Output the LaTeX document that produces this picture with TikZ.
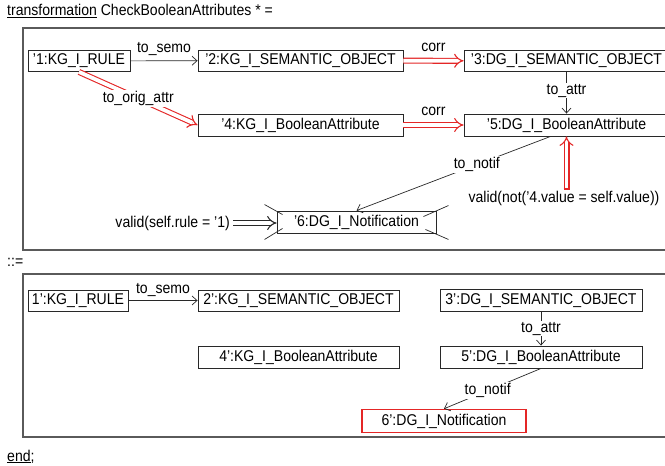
\documentclass[tikz,border=0pt]{standalone}
\usepackage{fontspec}
\setmainfont{Liberation Sans}[FakeStretch=0.9]
\usetikzlibrary{arrows.meta,calc}
\definecolor{rulered}{RGB}{228,38,38}
\definecolor{ink}{RGB}{40,40,40}
\definecolor{framegray}{RGB}{90,90,90}
\newcommand{\objfont}{\fontsize{15.6}{18}\selectfont}
\tikzset{
  obj/.style={draw=ink, line width=0.9pt, inner sep=0pt, minimum height=21pt, fill=white},
  newobj/.style={obj, draw=rulered, line width=1.5pt},
  frame/.style={draw=framegray, line width=1.1pt},
  link/.style={draw=ink, line width=0.7pt, -{Straight Barb[length=5pt,width=9pt]}},
  twin/.style={line width=1.1pt, double=white, double distance=3.8pt, -{Implies[scale=1.3]}},
  redtwin/.style={twin, draw=rulered},
  inktwin/.style={twin, draw=ink},
  lbl/.style={fill=white, inner sep=1pt},
  cross/.style={draw=ink, line width=0.7pt},
  keyword/.style={anchor=base west, inner sep=0pt}
}
\begin{document}
\begin{tikzpicture}[x=1pt, y=-1pt, font=\objfont]
\clip (0,0) rectangle (665,466);
\fill[white] (0,0) rectangle (665,466);

% header
\node[keyword] (title) at (7,15.5) {\underline{transformation} CheckBooleanAttributes * =};

% left-hand side
\draw[frame] (23,28) rectangle (690,250);

\node[obj, minimum width=102pt] (n1) at (79,61) {'1:KG\_I\_RULE};
\node[obj, minimum width=205pt] (n2) at (300.5,60.5) {'2:KG\_I\_SEMANTIC\_OBJECT};
\node[obj, minimum width=205pt] (n3) at (566.5,61) {'3:DG\_I\_SEMANTIC\_OBJECT};
\node[obj, minimum width=205pt, minimum height=22pt] (n4) at (300.5,125) {'4:KG\_I\_BooleanAttribute};
\node[obj, minimum width=205pt, minimum height=22pt] (n5) at (566.5,125) {'5:DG\_I\_BooleanAttribute};
\node[obj, minimum width=159pt, minimum height=22pt] (n6) at (356.5,222) {'6:DG\_I\_Notification};

\draw[link] (n1) -- node[above=3.5pt, inner sep=1pt] {to\_semo} (n2);
\draw[redtwin] (n2) -- node[above=7.5pt, inner sep=1pt] {corr} (n3);
\draw[redtwin] (n4) -- node[above=7.5pt, inner sep=1pt] {corr} (n5);
\draw[redtwin] (n1.south) -- node[lbl] {to\_orig\_attr} (n4.west);
\draw[link] (n3.south) -- node[lbl, pos=0.45] {to\_attr} (n5.north);
\draw[link] ($(n5.south)+(-16,0)$) -- node[lbl, pos=0.38] {to\_notif} (n6.north);

% attribute condition on '5
\node[inner sep=1.5pt] (vnot) at (564,198) {valid(not('4.value = self.value))};
\coordinate (vnotfoot) at (vnot.north -| n5.south);
\draw[redtwin] (vnotfoot) -- (n5.south);
\draw[draw=rulered, line width=1.1pt] ($(vnotfoot)+(-3,0)$) -- ($(vnotfoot)+(3,0)$);

% condition on '6
\node[anchor=east, inner sep=3pt] (vcond) at (233,223) {valid(self.rule = '1)};
\draw[inktwin] (vcond.east) -- (vcond.east -| n6.west);

% crossing strokes around '6
\draw[cross] ($(n6.north west)+(-12,-6)$) -- ($(n6.north west)+(6,4)$);
\draw[cross] ($(n6.south west)+(-12,6)$) -- ($(n6.south west)+(6,-5)$);
\draw[cross] ($(n6.north east)+(12,-5)$) -- ($(n6.north east)+(-13,6)$);
\draw[cross] ($(n6.south east)+(12,6)$) -- ($(n6.south east)+(-11,-4)$);

% separator
\node[keyword] (sep) at (7,266) {::=};

% right-hand side
\draw[frame] (23,274) rectangle (690,437);

\node[obj, minimum width=100pt] (m1) at (78,300.5) {1':KG\_I\_RULE};
\node[obj, minimum width=201pt] (m2) at (298.5,300.5) {2':KG\_I\_SEMANTIC\_OBJECT};
\node[obj, minimum width=202pt, minimum height=22pt] (m3) at (541,300.5) {3':DG\_I\_SEMANTIC\_OBJECT};
\node[obj, minimum width=201pt, minimum height=22pt] (m4) at (298.5,357) {4':KG\_I\_BooleanAttribute};
\node[obj, minimum width=202pt, minimum height=22pt] (m5) at (541,357) {5':DG\_I\_BooleanAttribute};
\node[newobj, minimum width=164pt, minimum height=23pt] (m6) at (444,421) {6':DG\_I\_Notification};

\draw[link] (m1) -- node[above=3pt, inner sep=1pt] {to\_semo} (m2);
\draw[link] (m3.south) -- node[lbl] {to\_attr} (m5.north);
\draw[link] (m5.south) -- node[lbl, pos=0.55] {to\_notif} (m6.north);

% footer
\node[keyword] (fin) at (7,461) {\underline{end};};
\end{tikzpicture}
\end{document}
